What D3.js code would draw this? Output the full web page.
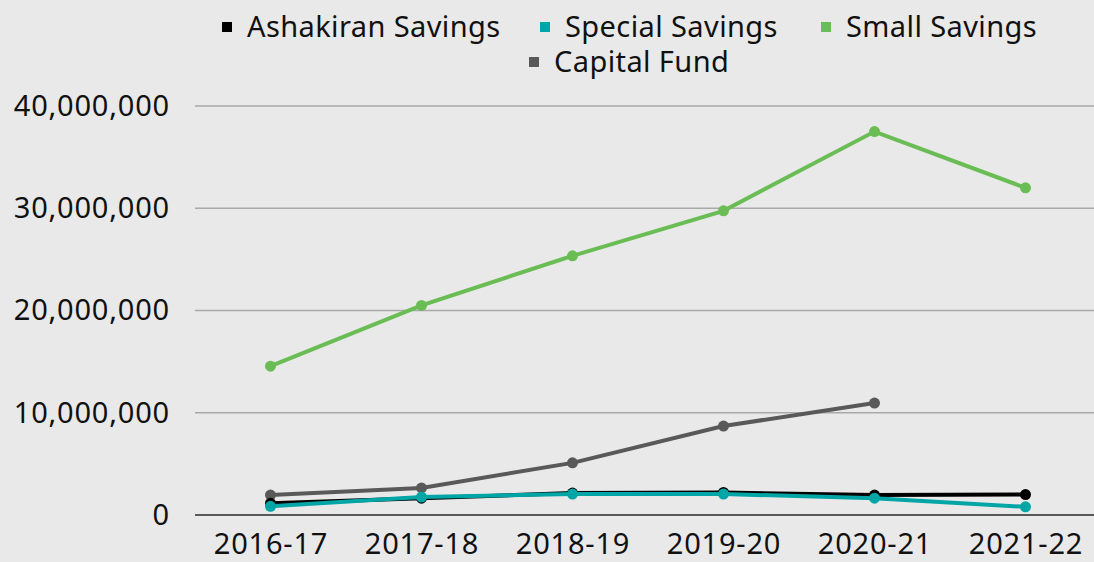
<!DOCTYPE html>
<head>
  <meta charset="utf-8">
  <script src="https://d3js.org/d3.v7.min.js"></script>
  <style>
    body { margin: 0; background: #e9e9e9; font-family: "Noto Sans", "Open Sans", sans-serif; }
    .tick text, .legend text {
      font-family: "Noto Sans", "Open Sans", sans-serif;
      font-size: 29px;
      letter-spacing: 0.8px;
      fill: #111;
    }
    .legend text { letter-spacing: 0.4px; }
  </style>
</head>
<body>
  <div id="vis"></div>
  <script>
    var years = ["2016-17", "2017-18", "2018-19", "2019-20", "2020-21", "2021-22"];
    var ashakiran = [1150000, 1650000, 2150000, 2200000, 1950000, 2000000];
    var special = [850000, 1750000, 2050000, 2050000, 1650000, 800000];
    var small = [14550000, 20500000, 25350000, 29750000, 37500000, 32000000];
    var capital = [1950000, 2650000, 5100000, 8700000, 10950000, null];
    var yTicks = [0, 10000000, 20000000, 30000000, 40000000];

    var series = [
      { name: "Capital Fund", values: capital, color: "#595959" },
      { name: "Small Savings", values: small, color: "#6abd54" },
      { name: "Ashakiran Savings", values: ashakiran, color: "#000000" },
      { name: "Special Savings", values: special, color: "#00a5a5" }
    ];

    var width = 1094, height = 562;
    var svg = d3.select("#vis").append("svg")
      .attr("width", width).attr("height", height);

    var x = d3.scalePoint().domain(years).range([195, 1101]).padding(0.5);
    var y = d3.scaleLinear().domain([0, 40000000]).range([515, 106]);

    // gridlines
    svg.append("g").selectAll("line")
      .data(yTicks.filter(function (d) { return d > 0; }))
      .enter().append("line")
      .attr("x1", 195).attr("x2", width)
      .attr("y1", function (d) { return y(d); })
      .attr("y2", function (d) { return y(d); })
      .attr("stroke", "#a9a9a9").attr("stroke-width", 1.5);

    svg.append("line")
      .attr("x1", 195).attr("x2", width)
      .attr("y1", y(0)).attr("y2", y(0))
      .attr("stroke", "#595959").attr("stroke-width", 2);

    var yAxis = svg.append("g")
      .attr("transform", "translate(195,0)")
      .call(d3.axisLeft(y).tickValues(yTicks).tickSize(0).tickPadding(25)
        .tickFormat(d3.format(",")));
    yAxis.select(".domain").remove();

    var xAxis = svg.append("g")
      .attr("transform", "translate(0," + y(0) + ")")
      .call(d3.axisBottom(x).tickSize(0).tickPadding(18));
    xAxis.select(".domain").remove();

    var line = d3.line()
      .defined(function (d) { return d != null; })
      .x(function (d, i) { return x(years[i]); })
      .y(function (d) { return y(d); });

    series.forEach(function (s) {
      svg.append("path")
        .attr("d", line(s.values))
        .attr("fill", "none")
        .attr("stroke", s.color)
        .attr("stroke-width", 4);
      svg.append("g").selectAll("circle")
        .data(s.values.map(function (v, i) { return { v: v, yr: years[i] }; })
          .filter(function (d) { return d.v != null; }))
        .enter().append("circle")
        .attr("cx", function (d) { return x(d.yr); })
        .attr("cy", function (d) { return y(d.v); })
        .attr("r", 5.5)
        .attr("fill", s.color);
    });

    // legend
    var legendItems = [
      { name: "Ashakiran Savings", color: "#000000", x: 222, y: 27 },
      { name: "Special Savings", color: "#00a5a5", x: 540, y: 27 },
      { name: "Small Savings", color: "#6abd54", x: 821, y: 27 },
      { name: "Capital Fund", color: "#595959", x: 529, y: 62 }
    ];
    var lg = svg.append("g").attr("class", "legend").selectAll("g")
      .data(legendItems).enter().append("g")
      .attr("transform", function (d) { return "translate(" + d.x + "," + d.y + ")"; });
    lg.append("rect").attr("x", 0).attr("y", -5).attr("width", 10).attr("height", 10)
      .attr("fill", function (d) { return d.color; });
    lg.append("text").attr("x", 25).attr("dy", "0.35em")
      .text(function (d) { return d.name; });
  </script>
</body>
